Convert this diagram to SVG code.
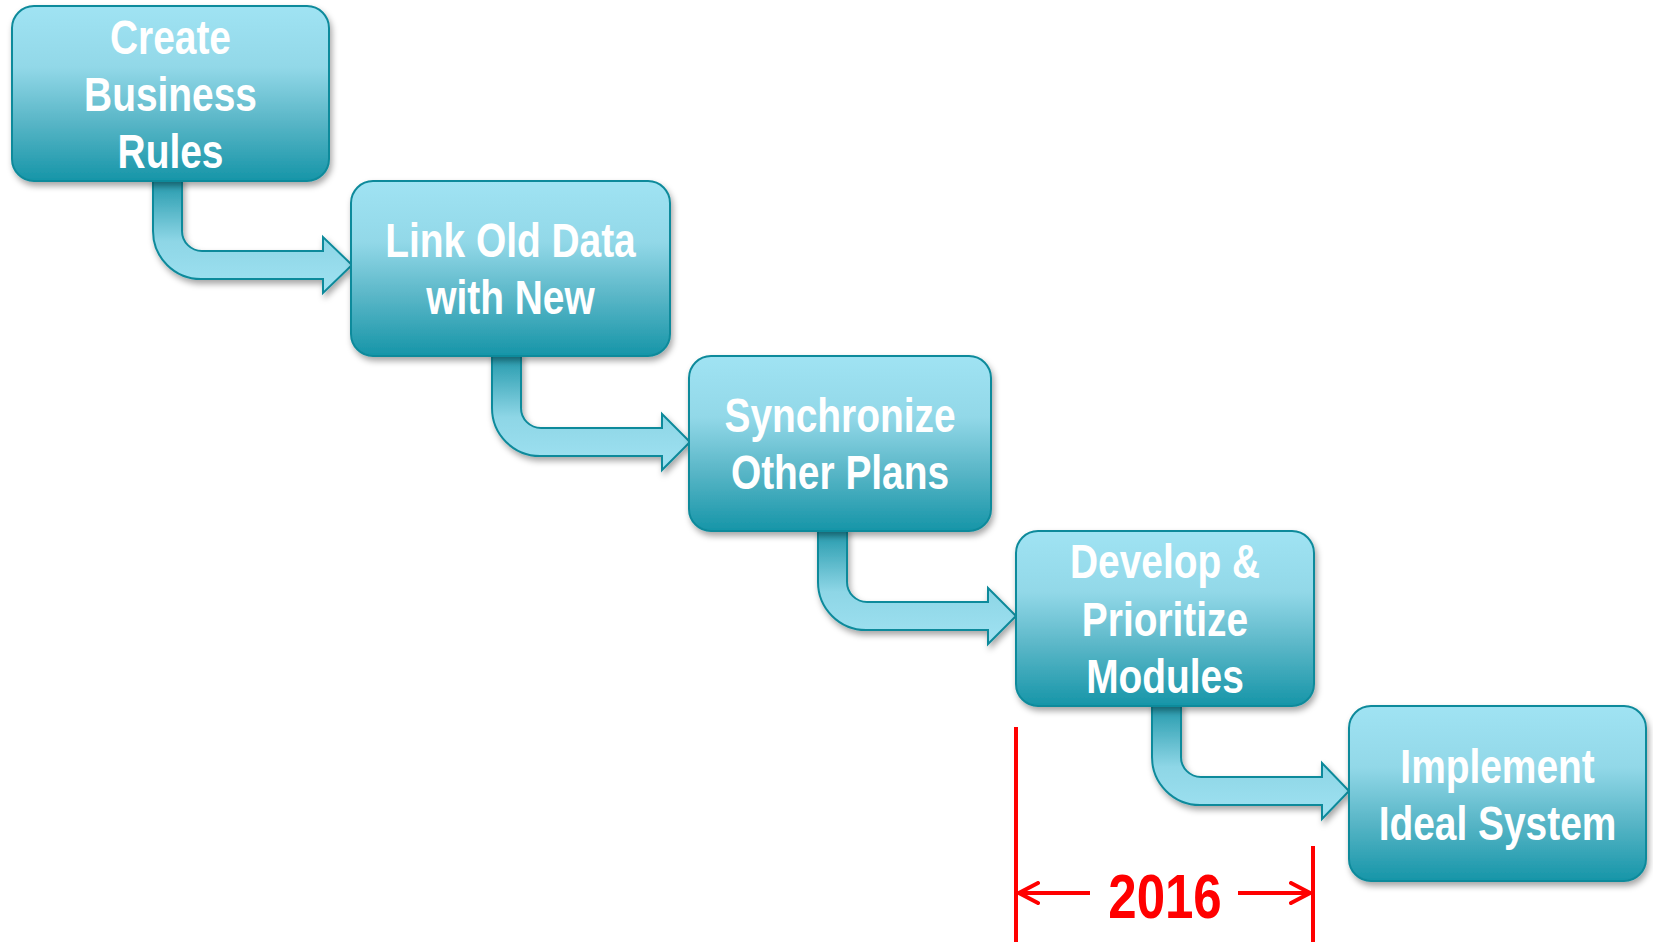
<svg xmlns="http://www.w3.org/2000/svg" width="1653" height="945" viewBox="0 0 1653 945">
<defs>
<linearGradient id="boxGrad" x1="0" y1="0" x2="0" y2="1">
<stop offset="0" stop-color="#A0E3F3"/>
<stop offset="0.35" stop-color="#92D8E8"/>
<stop offset="0.65" stop-color="#5BB7C8"/>
<stop offset="1" stop-color="#1695A8"/>
</linearGradient>
<linearGradient id="arrGrad" x1="0" y1="0" x2="0" y2="1">
<stop offset="0" stop-color="#1E96A9"/>
<stop offset="0.55" stop-color="#8ED6E6"/>
<stop offset="1" stop-color="#A0E2F2"/>
</linearGradient>
<filter id="shadow" x="-10%" y="-10%" width="125%" height="130%">
<feDropShadow dx="2" dy="4" stdDeviation="3" flood-color="#000" flood-opacity="0.35"/>
</filter>
<marker id="chev" viewBox="0 0 24 24" refX="21" refY="12" markerWidth="24" markerHeight="24" markerUnits="userSpaceOnUse" orient="auto">
<path d="M2,2 L21,12 L2,22" fill="none" stroke="#FF0000" stroke-width="4" stroke-linecap="round" stroke-linejoin="miter"/>
</marker>
</defs>
<style>
.box{fill:url(#boxGrad);stroke:#0E8A9B;stroke-width:2;filter:url(#shadow)}
.arr{fill:url(#arrGrad);stroke:#0E8A9B;stroke-width:2;filter:url(#shadow)}
.lbl{font-family:"Liberation Sans",Arial,sans-serif;font-weight:bold;font-size:48px;fill:#FFFFFF;text-anchor:middle}
.red{stroke:#FF0000;stroke-width:4;fill:none}
.year{font-family:"Liberation Sans",Arial,sans-serif;font-weight:bold;font-size:63px;fill:#FF0000;text-anchor:middle}
</style>
<rect width="1653" height="945" fill="#FFFFFF"/>
<g id="connectors">
<path class="arr" d="M153,178 L182,178 L182,231 A20,20 0 0 0 202,251 L323,251 L323,237 L352,265 L323,293 L323,279 L201,279 A48,48 0 0 1 153,231 Z"/>
<path class="arr" d="M492,353 L521,353 L521,408 A20,20 0 0 0 541,428 L662,428 L662,414 L690,442 L662,470 L662,456 L540,456 A48,48 0 0 1 492,408 Z"/>
<path class="arr" d="M818,528 L847,528 L847,582 A20,20 0 0 0 867,602 L988,602 L988,588 L1016,616 L988,644 L988,630 L866,630 A48,48 0 0 1 818,582 Z"/>
<path class="arr" d="M1152,703 L1181,703 L1181,757 A20,20 0 0 0 1201,777 L1322,777 L1322,763 L1349,791 L1322,819 L1322,805 L1200,805 A48,48 0 0 1 1152,757 Z"/>
</g>
<g id="node1">
<rect class="box" x="12" y="6" width="317" height="175" rx="22"/>
<g transform="translate(170.5,0) scale(0.81,1)">
<text class="lbl" x="0" y="54">Create</text>
<text class="lbl" x="0" y="111">Business</text>
<text class="lbl" x="0" y="168">Rules</text>
</g>
</g>
<g id="node2">
<rect class="box" x="351" y="181" width="319" height="175" rx="22"/>
<g transform="translate(510.5,0) scale(0.81,1)">
<text class="lbl" x="0" y="257">Link Old Data</text>
<text class="lbl" x="0" y="314">with New</text>
</g>
</g>
<g id="node3">
<rect class="box" x="689" y="356" width="302" height="175" rx="22"/>
<g transform="translate(840,0) scale(0.81,1)">
<text class="lbl" x="0" y="432">Synchronize</text>
<text class="lbl" x="0" y="489">Other Plans</text>
</g>
</g>
<g id="node4">
<rect class="box" x="1016" y="531" width="298" height="175" rx="22"/>
<g transform="translate(1165,0) scale(0.81,1)">
<text class="lbl" x="0" y="578">Develop &amp;</text>
<text class="lbl" x="0" y="636">Prioritize</text>
<text class="lbl" x="0" y="693">Modules</text>
</g>
</g>
<g id="node5">
<rect class="box" x="1349" y="706" width="297" height="175" rx="22"/>
<g transform="translate(1497.5,0) scale(0.81,1)">
<text class="lbl" x="0" y="783">Implement</text>
<text class="lbl" x="0" y="840">Ideal System</text>
</g>
</g>
<g id="timespan">
<line class="red" x1="1016" y1="727" x2="1016" y2="942"/>
<line class="red" x1="1313" y1="846" x2="1313" y2="942"/>
<line class="red" x1="1090" y1="893" x2="1019" y2="893" marker-end="url(#chev)"/>
<line class="red" x1="1238" y1="893" x2="1310" y2="893" marker-end="url(#chev)"/>
<g transform="translate(1165,0) scale(0.81,1)">
<text class="year" x="0" y="918">2016</text>
</g>
</g>
</svg>
